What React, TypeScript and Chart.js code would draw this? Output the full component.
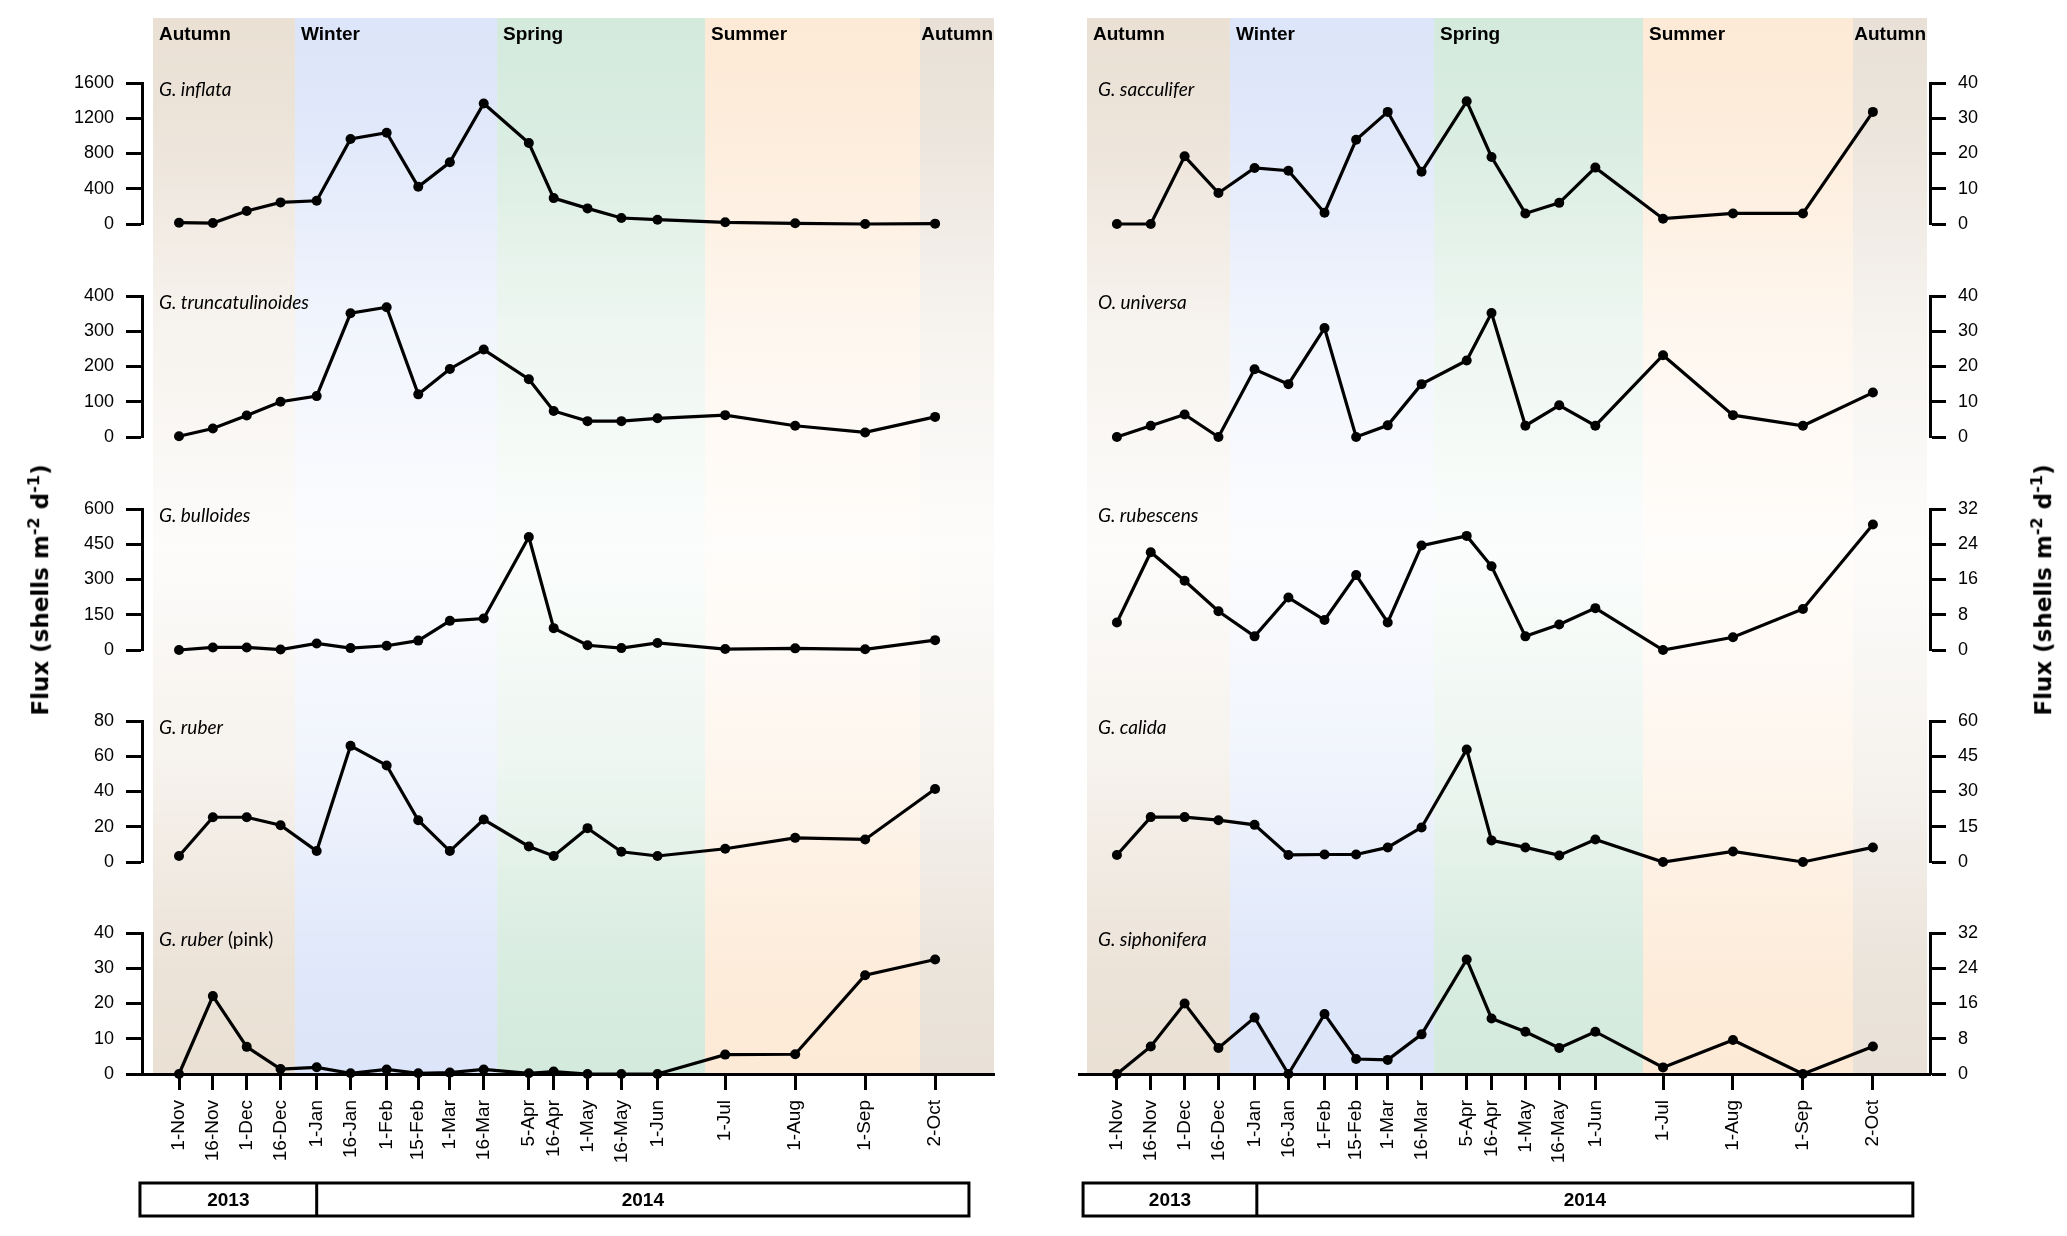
import React, { useEffect, useRef } from 'react';
import { Chart, registerables } from 'chart.js';

Chart.register(...registerables);

// ---------------- DATA ----------------
const sampleDates = [
  '2013-11-01', '2013-11-16', '2013-12-01', '2013-12-16', '2014-01-01', '2014-01-16',
  '2014-02-01', '2014-02-15', '2014-03-01', '2014-03-16', '2014-04-05', '2014-04-16',
  '2014-05-01', '2014-05-16', '2014-06-01', '2014-07-01', '2014-08-01', '2014-09-01', '2014-10-02',
];
const dateLabels = [
  '1-Nov', '16-Nov', '1-Dec', '16-Dec', '1-Jan', '16-Jan', '1-Feb', '15-Feb', '1-Mar', '16-Mar',
  '5-Apr', '16-Apr', '1-May', '16-May', '1-Jun', '1-Jul', '1-Aug', '1-Sep', '2-Oct',
];

const inflata = [15, 11, 147, 245, 264, 964, 1035, 422, 700, 1367, 919, 294, 177, 68, 49, 19, 8, 0, 4];
const truncatulinoides = [2, 24, 61, 100, 116, 351, 368, 121, 193, 248, 164, 74, 45, 45, 53, 62, 32, 13, 57];
const bulloides = [0, 11, 11, 2, 28, 8, 18, 40, 124, 134, 481, 93, 20, 8, 30, 4, 7, 3, 42];
const ruber = [3.4, 25.4, 25.4, 20.9, 6.2, 65.9, 54.8, 23.7, 6.2, 24.1, 8.8, 3.4, 19.2, 5.8, 3.4, 7.5, 13.7, 12.8, 41.4];
const ruberPink = [0, 22.1, 7.7, 1.4, 1.9, 0.2, 1.3, 0.2, 0.4, 1.3, 0.2, 0.7, 0, 0, 0, 5.5, 5.6, 28, 32.5];

const sacculifer = [0, 0, 19.2, 8.8, 15.9, 15.1, 3.2, 23.9, 31.8, 14.8, 34.8, 19.0, 3.0, 6.0, 16.0, 1.5, 3.0, 3.0, 31.8];
const universa = [0, 3.2, 6.4, 0, 19.2, 15.0, 30.9, 0, 3.3, 15.0, 21.7, 35.2, 3.2, 9.0, 3.2, 23.2, 6.2, 3.2, 12.6];
const rubescens = [6.25, 22.2, 15.7, 8.8, 3.1, 11.9, 6.8, 17.0, 6.25, 23.7, 25.9, 19.0, 3.1, 5.8, 9.5, 0, 2.9, 9.3, 28.5];
const calida = [3.0, 19.1, 19.1, 17.8, 15.8, 3.0, 3.2, 3.2, 6.2, 14.7, 47.9, 9.2, 6.2, 2.8, 9.6, 0, 4.5, 0, 6.2];
const siphonifera = [0, 6.25, 16, 5.9, 12.8, 0, 13.6, 3.4, 3.2, 9.0, 26, 12.6, 9.6, 5.9, 9.6, 1.5, 7.7, 0, 6.25];

const leftNames = ['G. inflata', 'G. truncatulinoides', 'G. bulloides', 'G. ruber', 'G. ruber'];
const leftNameSuffix = ['', '', '', '', ' (pink)'];
const leftMax = [1600, 400, 600, 80, 40];
const leftStep = [400, 100, 150, 20, 10];
const leftSeries = [inflata, truncatulinoides, bulloides, ruber, ruberPink];

const rightNames = ['G. sacculifer', 'O. universa', 'G. rubescens', 'G. calida', 'G. siphonifera'];
const rightNameSuffix = ['', '', '', '', ''];
const rightMax = [40, 40, 32, 60, 32];
const rightStep = [10, 10, 8, 15, 8];
const rightSeries = [sacculifer, universa, rubescens, calida, siphonifera];

const seasonNames = ['Autumn', 'Winter', 'Spring', 'Summer', 'Autumn'];
const yearLabels = ['2013', '2014'];

// ---------------- LAYOUT ----------------
const ORIGIN = Date.UTC(2013, 10, 1);
const dayOf = (iso: string) => {
  const [y, m, d] = iso.split('-').map(Number);
  return (Date.UTC(y, m - 1, d) - ORIGIN) / 86400000;
};
const days = sampleDates.map(dayOf);

const PAGE_W = 2067;
const PAGE_H = 1236;
const ZERO = [224, 437, 650, 862, 1074];
const AXIS_H = 141;
const GAP = 10;
const BAND_TOP = 18;
const BAND_BOTTOM = 1074;

const SEASON_COLORS = ['#EAE0D4', '#DCE5F9', '#D4EADD', '#FDEAD6', '#E9E1D7'];
const SANS = '"Liberation Sans", Arial, sans-serif';
const ITALIC_FONT = 'Lato, "Open Sans", sans-serif';
const TITLE_FONT = '"DejaVu Sans", Verdana, sans-serif';

type ColCfg = {
  pageX: number; width: number; padLeft: number; padRight: number; yWidth: number;
  yPos: 'left' | 'right'; xMin: number; xMax: number; edges: number[]; nameOffset: number;
  year: number[];
};

const COLS: Record<string, ColCfg> = {
  left: {
    pageX: 0, width: 1040, padLeft: 0, padRight: 46, yWidth: 142, yPos: 'left',
    xMin: -16.4, xMax: 361.1, edges: [-11.5, 51.4, 141, 233, 328.2, 361.1], nameOffset: 6,
    year: [-17.3, 61, 350],
  },
  right: {
    pageX: 1040, width: 1027, padLeft: 39, padRight: 0, yWidth: 137, yPos: 'right',
    xMin: -16.8, xMax: 360.3, edges: [-13.3, 50, 140.5, 233, 326.2, 359], nameOffset: 11,
    year: [-15, 62, 352.7],
  },
};

function Panel({ col, idx }: { col: 'left' | 'right'; idx: number }) {
  const ref = useRef<HTMLCanvasElement>(null);
  const C = COLS[col];
  const values = col === 'left' ? leftSeries[idx] : rightSeries[idx];
  const name = col === 'left' ? leftNames[idx] : rightNames[idx];
  const suffix = col === 'left' ? leftNameSuffix[idx] : rightNameSuffix[idx];
  const yMax = col === 'left' ? leftMax[idx] : rightMax[idx];
  const yStep = col === 'left' ? leftStep[idx] : rightStep[idx];
  const first = idx === 0;
  const last = idx === 4;
  const canvasTop = first ? 0 : ZERO[idx - 1] + GAP;
  const canvasBottom = last ? PAGE_H : ZERO[idx] + GAP;
  const h = canvasBottom - canvasTop;

  useEffect(() => {
    if (!ref.current) return;
    const decor = {
      id: 'decor',
      beforeDraw(chart: any) {
        const { ctx, chartArea } = chart;
        const x = chart.scales.x;
        const top = first ? BAND_TOP - canvasTop : 0;
        const bottom = last ? chartArea.bottom : chart.height;
        ctx.save();
        const px = C.edges.map((e) => Math.round(x.getPixelForValue(e)));
        for (let i = 0; i < 5; i++) {
          ctx.fillStyle = SEASON_COLORS[i];
          ctx.fillRect(px[i], top, px[i + 1] - px[i], bottom - top);
        }
        const g = ctx.createLinearGradient(0, BAND_TOP - canvasTop, 0, BAND_BOTTOM - canvasTop);
        g.addColorStop(0, 'rgba(255,255,255,0)');
        g.addColorStop(0.1, 'rgba(255,255,255,0.12)');
        g.addColorStop(0.3, 'rgba(255,255,255,0.62)');
        g.addColorStop(0.5, 'rgba(255,255,255,0.9)');
        g.addColorStop(0.7, 'rgba(255,255,255,0.6)');
        g.addColorStop(0.9, 'rgba(255,255,255,0.1)');
        g.addColorStop(1, 'rgba(255,255,255,0)');
        ctx.fillStyle = g;
        ctx.fillRect(px[0], top, px[5] - px[0], bottom - top);
        ctx.restore();
      },
      afterDraw(chart: any) {
        const { ctx, chartArea } = chart;
        const x = chart.scales.x;
        const px = C.edges.map((e) => Math.round(x.getPixelForValue(e)));
        ctx.save();
        ctx.fillStyle = '#000';
        ctx.textBaseline = 'alphabetic';
        ctx.textAlign = 'left';
        ctx.font = `italic 19px ${ITALIC_FONT}`;
        const nx = px[0] + C.nameOffset;
        const ny = chartArea.top + 13;
        ctx.fillText(name, nx, ny);
        if (suffix) {
          const w = ctx.measureText(name).width;
          ctx.font = `19px ${ITALIC_FONT}`;
          ctx.fillText(suffix, nx + w, ny);
        }
        if (first) {
          ctx.font = `bold 19px ${SANS}`;
          for (let i = 0; i < 5; i++) {
            if (i === 4) {
              ctx.textAlign = 'right';
              ctx.fillText(seasonNames[i], px[5] - 1, 40);
            } else {
              ctx.textAlign = 'left';
              ctx.fillText(seasonNames[i], px[i] + 6, 40);
            }
          }
        }
        if (last) {
          const yt = chartArea.bottom + 109;
          const yh = 33;
          const xl = x.getPixelForValue(C.year[0]);
          const xm = x.getPixelForValue(C.year[1]);
          const xr = x.getPixelForValue(C.year[2]);
          ctx.strokeStyle = '#000';
          ctx.lineWidth = 3;
          ctx.strokeRect(xl, yt, xr - xl, yh);
          ctx.beginPath();
          ctx.moveTo(xm, yt);
          ctx.lineTo(xm, yt + yh);
          ctx.stroke();
          ctx.font = `bold 19px ${SANS}`;
          ctx.textAlign = 'center';
          ctx.textBaseline = 'middle';
          ctx.fillText(yearLabels[0], (xl + xm) / 2, yt + yh / 2 + 1);
          ctx.fillText(yearLabels[1], (xm + xr) / 2, yt + yh / 2 + 1);
        }
        ctx.restore();
      },
    };

    const chart = new Chart(ref.current, {
      type: 'line',
      data: {
        datasets: [
          {
            data: days.map((d, i) => ({ x: d, y: values[i] })),
            borderColor: '#000',
            backgroundColor: '#000',
            borderWidth: 3.2,
            pointRadius: 5,
            pointHoverRadius: 5,
            pointBackgroundColor: '#000',
            pointBorderWidth: 0,
            tension: 0,
            clip: false as any,
          },
        ],
      },
      options: {
        animation: false,
        responsive: true,
        maintainAspectRatio: false,
        events: [],
        layout: {
          autoPadding: false,
          padding: {
            top: ZERO[idx] - AXIS_H - canvasTop,
            bottom: last ? 0 : canvasBottom - ZERO[idx],
            left: C.padLeft,
            right: C.padRight,
          },
        } as any,
        plugins: { legend: { display: false }, tooltip: { enabled: false } },
        scales: {
          x: {
            type: 'linear',
            min: C.xMin,
            max: C.xMax,
            display: last,
            afterBuildTicks: (s: any) => {
              s.ticks = days.map((v) => ({ value: v }));
            },
            afterFit: (s: any) => {
              s.height = last ? PAGE_H - BAND_BOTTOM : 0;
              s.paddingLeft = 0;
              s.paddingRight = 0;
              s.paddingTop = 0;
              s.paddingBottom = 0;
            },
            ticks: {
              autoSkip: false,
              minRotation: 90,
              maxRotation: 90,
              padding: 10,
              color: '#000',
              font: { family: SANS, size: 19 },
              callback: (_v: any, i: number) => dateLabels[i],
            },
            grid: {
              display: true,
              drawOnChartArea: false,
              drawTicks: true,
              tickLength: 16,
              tickWidth: 3,
              tickColor: '#000',
              color: '#000',
            },
            border: { display: true, color: '#000', width: 3 },
          },
          y: {
            type: 'linear',
            position: C.yPos,
            min: 0,
            max: yMax,
            afterFit: (s: any) => {
              s.width = C.yWidth;
              s.paddingLeft = 0;
              s.paddingRight = 0;
              s.paddingTop = 0;
              s.paddingBottom = 0;
            },
            ticks: {
              stepSize: yStep,
              padding: 12,
              color: '#000',
              font: { family: SANS, size: 18 },
              callback: (v: any) => String(v),
            },
            grid: {
              display: true,
              drawOnChartArea: false,
              drawTicks: true,
              tickLength: 16,
              tickWidth: 3,
              tickColor: '#000',
              color: '#000',
            },
            border: { display: true, color: '#000', width: 3 },
          },
        },
      } as any,
      plugins: [decor],
    });
    return () => chart.destroy();
  }, []);

  return (
    <div style={{ position: 'absolute', left: C.pageX, top: canvasTop, width: C.width, height: h }}>
      <canvas ref={ref} />
    </div>
  );
}

const titleStyle: React.CSSProperties = {
  position: 'absolute',
  top: 590,
  transform: 'translate(-50%, -50%) rotate(-90deg)',
  whiteSpace: 'nowrap',
  font: `bold 23px ${TITLE_FONT}`,
  color: '#000',
  lineHeight: '30px',
};

function Title({ x }: { x: number }) {
  return (
    <div style={{ ...titleStyle, left: x }}>
      Flux (shells m<sup style={{ fontSize: '0.7em' }}>-2</sup> d<sup style={{ fontSize: '0.7em' }}>-1</sup>)
    </div>
  );
}

export default function App() {
  const idxs = [0, 1, 2, 3, 4];
  return (
    <div
      style={{
        position: 'fixed',
        left: 0,
        top: 0,
        width: PAGE_W,
        height: PAGE_H,
        background: '#fff',
        overflow: 'hidden',
      }}
    >
      {idxs.map((i) => (
        <Panel key={'l' + i} col="left" idx={i} />
      ))}
      {idxs.map((i) => (
        <Panel key={'r' + i} col="right" idx={i} />
      ))}
      <Title x={37} />
      <Title x={2040} />
    </div>
  );
}
